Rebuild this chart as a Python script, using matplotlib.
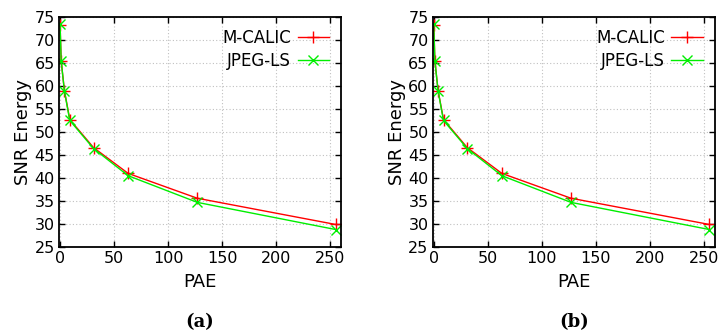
import matplotlib
matplotlib.use("Agg")
import matplotlib.pyplot as plt

pae = [0, 1, 4, 9, 31, 63, 127, 255]
mcalic = [73.3, 65.5, 59.0, 52.7, 46.6, 41.0, 35.6, 29.9]
jpegls = [73.4, 65.5, 58.9, 52.5, 46.4, 40.5, 34.7, 28.8]
xticks = [0, 50, 100, 150, 200, 250]
yticks = [25, 30, 35, 40, 45, 50, 55, 60, 65, 70, 75]
captions = ["(a)", "(b)"]

fig = plt.figure(figsize=(7.19, 3.34), dpi=100)
lefts = [59 / 719, 432.7 / 719]
for left, cap in zip(lefts, captions):
    ax = fig.add_axes([left, 87 / 334, 282 / 719, 230 / 334])
    ax.plot(pae, mcalic, color="#ff0000", marker="+", markersize=8, lw=1.0,
            label="M-CALIC")
    ax.plot(pae, jpegls, color="#00ee00", marker="x", markersize=7, lw=1.0,
            label="JPEG-LS")
    ax.set_xlim(-1, 260)
    ax.set_ylim(25, 75)
    ax.set_xticks(xticks)
    ax.set_yticks(yticks)
    ax.tick_params(direction="in", top=True, right=True, labelsize=11.5,
                   length=4, width=1, pad=3)
    ax.grid(True, linestyle=(0, (1, 2)), color="#c0c0c0", lw=0.8)
    for s in ax.spines.values():
        s.set_linewidth(1.3)
    ax.set_xlabel("PAE", fontsize=13, labelpad=5)
    ax.set_ylabel("SNR Energy", fontsize=13, labelpad=2)
    ax.legend(loc="upper right", frameon=False, markerfirst=False,
              fontsize=12, handlelength=1.9, borderaxespad=0.3,
              labelspacing=0.3, handletextpad=0.4)
    ax.text(0.5, -0.327, cap, transform=ax.transAxes, ha="center",
            va="center", fontsize=13, fontweight="bold", family="DejaVu Serif")

fig.savefig("out.png", dpi=100)
